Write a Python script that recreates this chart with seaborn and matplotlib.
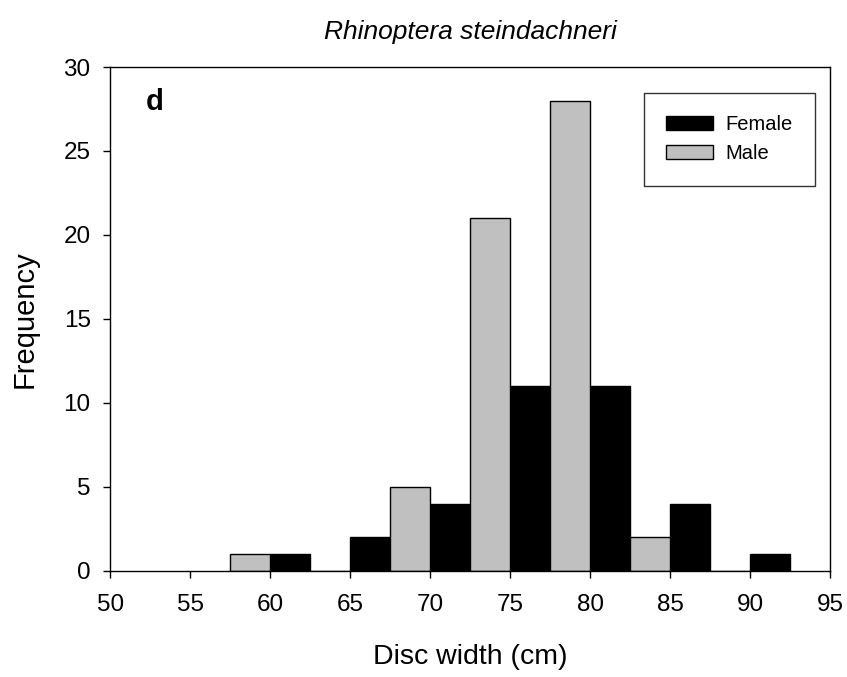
import matplotlib
matplotlib.use("Agg")
import matplotlib.pyplot as plt
import seaborn as sns
import pandas as pd
from matplotlib.patches import Patch

# Frequency counts per 5-cm disc-width class (class centres)
class_centres = [60, 65, 70, 75, 80, 85, 90]
female_counts = [1, 2, 4, 11, 11, 4, 1]
male_counts = [1, 0, 5, 21, 28, 2, 0]
bin_edges = [57.5, 62.5, 67.5, 72.5, 77.5, 82.5, 87.5, 92.5]

df = pd.DataFrame({
    "width": class_centres * 2,
    "count": male_counts + female_counts,
    "sex": ["Male"] * len(class_centres) + ["Female"] * len(class_centres),
})

sns.set_style("ticks")
plt.rcParams["font.family"] = ["Liberation Sans", "DejaVu Sans"]
plt.rcParams["text.color"] = "black"
plt.rcParams["axes.labelcolor"] = "black"

fig = plt.figure(figsize=(8.47, 6.77), dpi=100)
ax = fig.add_axes([0.130, 0.157, 0.850, 0.744])

sns.histplot(
    data=df, x="width", weights="count", hue="sex",
    hue_order=["Male", "Female"], bins=bin_edges,
    multiple="dodge", shrink=1.0, stat="count",
    palette={"Male": "#c0c0c0", "Female": "#000000"},
    edgecolor="black", linewidth=1.0, alpha=1.0,
    legend=False, ax=ax,
)

ax.set_xlim(50, 95)
ax.set_ylim(0, 30)
ax.set_xticks(range(50, 96, 5))
ax.set_yticks(range(0, 31, 5))
ax.tick_params(direction="out", length=5, width=1, labelsize=17.5,
               colors="black")
ax.tick_params(axis="x", pad=12)
ax.tick_params(axis="y", pad=9)
for s in ax.spines.values():
    s.set_visible(True)
    s.set_linewidth(1.0)
    s.set_color("black")

ax.set_xlabel("Disc width (cm)", fontsize=20.5, labelpad=20)
ax.set_ylabel("Frequency", fontsize=21, labelpad=18)
ax.set_title("Rhinoptera steindachneri", fontsize=19, style="italic", pad=20)
ax.text(0.049, 0.915, "d", transform=ax.transAxes, fontsize=21,
        fontweight="bold", va="baseline", ha="left")

handles = [
    Patch(facecolor="#000000", edgecolor="black", label="Female"),
    Patch(facecolor="#c0c0c0", edgecolor="black", label="Male"),
]
leg = ax.legend(handles=handles, loc="upper right", bbox_to_anchor=(0.979, 0.948),
                fontsize=14.5, frameon=True, fancybox=False, edgecolor="black",
                borderpad=1.1, handlelength=2.35, handleheight=0.7,
                handletextpad=0.6, labelspacing=0.5, borderaxespad=0)
leg.get_frame().set_linewidth(1.0)

fig.savefig("out.png", dpi=100)
